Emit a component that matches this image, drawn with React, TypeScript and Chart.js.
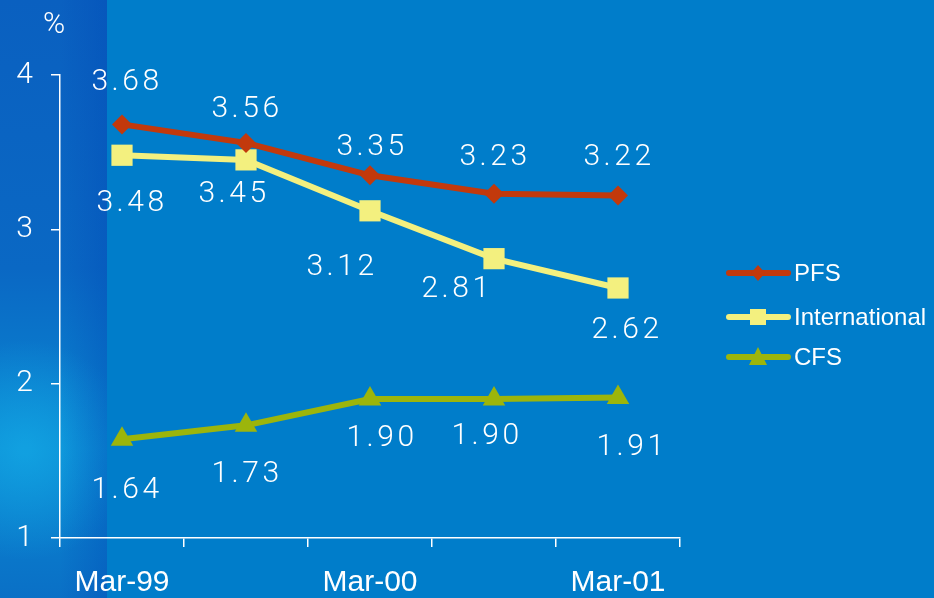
import React, { useEffect, useRef } from "react";
import { Chart, registerables } from "chart.js";

Chart.register(...registerables);

const categories = ["Mar-99", "Sep-99", "Mar-00", "Sep-00", "Mar-01"];
const pfsValues = [3.68, 3.56, 3.35, 3.23, 3.22];
const internationalValues = [3.48, 3.45, 3.12, 2.81, 2.62];
const cfsValues = [1.64, 1.73, 1.9, 1.9, 1.91];
const yTicks = [1, 2, 3, 4];
const seriesNames = ["PFS", "International", "CFS"];

// label placement (style only)
const labelOffsets = [
  { dx: [3, -1, 0, -1, -1], dy: [-42, -33, -28, -36, -38] },
  { dx: [8, -14, -30, -39, 7], dy: [48, 35, 57, 31, 43] },
  { dx: [3, -1, 10, -9, 12], dy: [51, 49, 39, 37, 50] },
];

const COLORS = ["#C2390C", "#F3F07F", "#9CB50B"];
const STYLES = ["rectRot", "rect", "triangle"];
const RADII = [10, 15, 13];
const LIGHT_FONT = "Roboto, 'DejaVu Sans', sans-serif";

const bgPlugin = {
  id: "bg",
  beforeDraw(chart: any) {
    const { ctx, width, height } = chart;
    ctx.save();
    ctx.fillStyle = "#007DCA";
    ctx.fillRect(0, 0, width, height);
    const g = ctx.createLinearGradient(0, 0, 0, height);
    g.addColorStop(0, "#0A60C0");
    g.addColorStop(0.45, "#0A68C4");
    g.addColorStop(0.75, "#0A88D2");
    g.addColorStop(1, "#0A70C6");
    ctx.fillStyle = g;
    ctx.fillRect(0, 0, 107, height);
    const r = ctx.createRadialGradient(25, 450, 5, 25, 450, 110);
    r.addColorStop(0, "rgba(20,170,230,0.7)");
    r.addColorStop(1, "rgba(20,170,230,0)");
    ctx.fillStyle = r;
    ctx.fillRect(0, 300, 107, 298);
    const e = ctx.createLinearGradient(60, 0, 107, 0);
    e.addColorStop(0, "rgba(0,70,180,0)");
    e.addColorStop(1, "rgba(0,70,180,0.35)");
    ctx.fillStyle = e;
    ctx.fillRect(60, 0, 47, height);
    ctx.restore();
  },
};

const labelsPlugin = {
  id: "valueLabels",
  afterDatasetsDraw(chart: any) {
    const { ctx } = chart;
    ctx.save();
    ctx.fillStyle = "#FFFFFF";
    ctx.font = "300 30px " + LIGHT_FONT;
    (ctx as any).letterSpacing = "3.5px";
    ctx.textAlign = "center";
    ctx.textBaseline = "middle";
    chart.data.datasets.forEach((ds: any, di: number) => {
      const meta = chart.getDatasetMeta(di);
      meta.data.forEach((pt: any, i: number) => {
        const v = ds.data[i] as number;
        ctx.fillText(v.toFixed(2), pt.x + labelOffsets[di].dx[i] + 2, pt.y + labelOffsets[di].dy[i]);
      });
    });
    ctx.restore();
  },
};

function drawMarker(ctx: CanvasRenderingContext2D, style: string, x: number, y: number, color: string) {
  ctx.fillStyle = color;
  ctx.beginPath();
  if (style === "rectRot") {
    ctx.moveTo(x, y - 8);
    ctx.lineTo(x + 7, y);
    ctx.lineTo(x, y + 8);
    ctx.lineTo(x - 7, y);
  } else if (style === "rect") {
    ctx.rect(x - 8, y - 8, 16, 16);
  } else {
    ctx.moveTo(x, y - 10);
    ctx.lineTo(x + 9, y + 8);
    ctx.lineTo(x - 9, y + 8);
  }
  ctx.closePath();
  ctx.fill();
}

const legendPlugin = {
  id: "customLegend",
  afterDraw(chart: any) {
    const { ctx } = chart;
    ctx.save();
    const rows = [273, 317, 357];
    chart.data.datasets.forEach((ds: any, di: number) => {
      const y = rows[di];
      ctx.strokeStyle = COLORS[di];
      ctx.lineWidth = 6;
      ctx.lineCap = "round";
      ctx.beginPath();
      ctx.moveTo(729, y);
      ctx.lineTo(788, y);
      ctx.stroke();
      drawMarker(ctx, STYLES[di], 758, y, COLORS[di]);
      ctx.fillStyle = "#FFFFFF";
      ctx.font = "24px 'Liberation Sans', Arial, sans-serif";
      ctx.textAlign = "left";
      ctx.textBaseline = "middle";
      ctx.fillText(ds.label, 794, y + 1);
    });
    // unit label
    ctx.fillStyle = "#FFFFFF";
    ctx.font = "300 30px " + LIGHT_FONT;
    ctx.textAlign = "center";
    ctx.textBaseline = "middle";
    ctx.fillText("%", 54, 25);
    ctx.restore();
  },
};

export default function App() {
  const ref = useRef<HTMLCanvasElement | null>(null);
  useEffect(() => {
    document.body.style.margin = "0";
    if (!ref.current) return;
    const seriesValues = [pfsValues, internationalValues, cfsValues];
    const chart = new Chart(ref.current, {
      type: "line",
      data: {
        labels: categories,
        datasets: seriesValues.map((vals, i) => ({
          label: seriesNames[i],
          data: vals,
          borderColor: COLORS[i],
          backgroundColor: COLORS[i],
          borderWidth: 6,
          pointStyle: STYLES[i] as any,
          pointRadius: RADII[i],
          pointBorderWidth: 0,
          pointBackgroundColor: COLORS[i],
          tension: 0,
        })),
      },
      options: {
        animation: false,
        responsive: false,
        devicePixelRatio: 1,
        layout: { padding: { top: 75, right: 254, left: 0, bottom: 0 } },
        plugins: { legend: { display: false }, tooltip: { enabled: false } },
        scales: {
          x: {
            type: "category",
            offset: true,
            grid: {
              offset: true,
              drawOnChartArea: false,
              drawTicks: true,
              tickLength: 9,
              color: "#FFFFFF",
              lineWidth: 1.5,
            },
            border: { display: true, color: "#FFFFFF", width: 1.5 },
            ticks: {
              autoSkip: false,
              maxRotation: 0,
              color: "#FFFFFF",
              padding: 18,
              font: { family: "'Liberation Sans', Arial, sans-serif", size: 30 },
              callback: (_v: any, i: number) => (i % 2 === 0 ? categories[i] : ""),
            },
            afterFit: (s: any) => {
              s.height = 60;
            },
          },
          y: {
            min: 1,
            max: 4,
            afterBuildTicks: (s: any) => {
              s.ticks = yTicks.map((v) => ({ value: v }));
            },
            grid: {
              drawOnChartArea: false,
              drawTicks: true,
              tickLength: 9,
              color: "#FFFFFF",
              lineWidth: 1.5,
            },
            border: { display: true, color: "#FFFFFF", width: 1.5 },
            ticks: {
              color: "#FFFFFF",
              padding: 18,
              font: { family: LIGHT_FONT, size: 30, weight: 300 as any },
            },
            afterFit: (s: any) => {
              s.width = 60;
            },
          },
        },
      },
      plugins: [bgPlugin, labelsPlugin, legendPlugin],
    });
    return () => chart.destroy();
  }, []);
  return <canvas ref={ref} width={934} height={598} style={{ display: "block", width: 934, height: 598 }} />;
}
